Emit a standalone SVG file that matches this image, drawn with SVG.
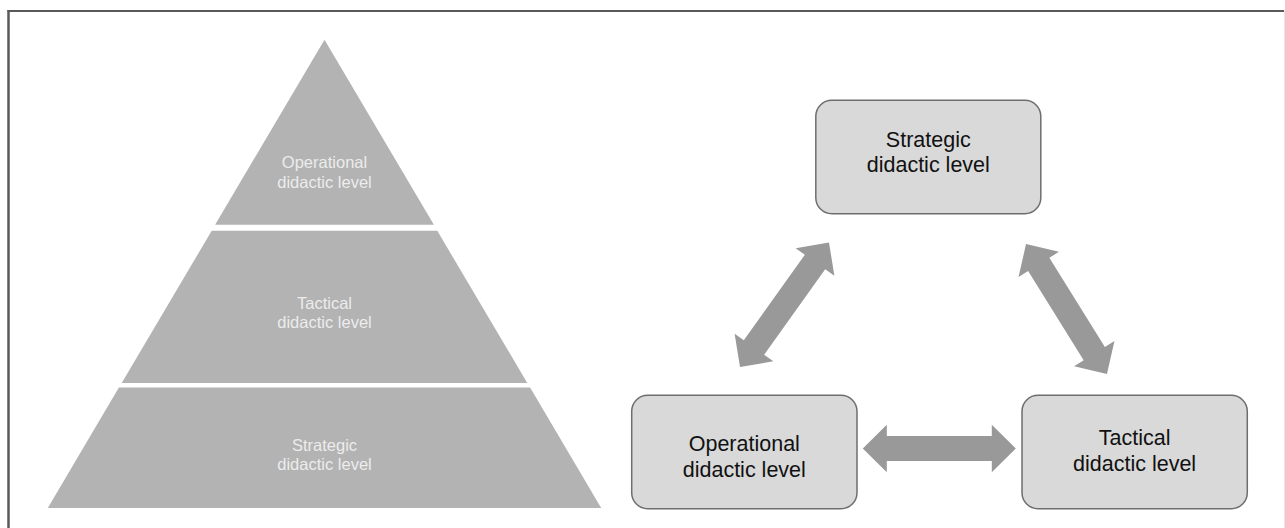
<svg xmlns="http://www.w3.org/2000/svg" xmlns:xlink="http://www.w3.org/1999/xlink" width="1285" height="528" viewBox="0 0 1285 528">
<style>
.band{fill:#b3b3b3}
.ptxt{font-family:"Liberation Sans",Arial,sans-serif;font-size:16.5px;fill:#ececec;text-anchor:middle}
.box{fill:#d9d9d9;stroke:#6e6e6e;stroke-width:1.5}
.btxt{font-family:"Liberation Sans",Arial,sans-serif;font-size:21.5px;fill:#111;text-anchor:middle}
.arrow{fill:#999999}
</style>
<defs>
<path id="dbl" d="M-76.5,0 L-52.5,-23.8 L-52.5,-12.5 L52.5,-12.5 L52.5,-23.8 L76.5,0 L52.5,23.8 L52.5,12.5 L-52.5,12.5 L-52.5,23.8 Z"/>
</defs>
<rect x="0" y="0" width="1285" height="528" fill="#ffffff"/>
<g id="frame">
<line x1="8.5" y1="10" x2="8.5" y2="528" stroke="#5a5a5a" stroke-width="2.5"/>
<line x1="7.5" y1="11" x2="1285" y2="11" stroke="#5a5a5a" stroke-width="2"/>
<line x1="1284.5" y1="10" x2="1284.5" y2="528" stroke="#e6e6e6" stroke-width="1"/>
</g>
<g id="pyramid">
<g id="band-operational">
<polygon class="band" points="324.5,39.7 433.9,224.8 215.1,224.8"/>
<text class="ptxt" x="324.5" y="168">Operational</text>
<text class="ptxt" x="324.5" y="187.5">didactic level</text>
</g>
<g id="band-tactical">
<polygon class="band" points="211.7,230.8 437.3,230.8 527.3,382.9 121.7,382.9"/>
<text class="ptxt" x="324.5" y="308.5">Tactical</text>
<text class="ptxt" x="324.5" y="328">didactic level</text>
</g>
<g id="band-strategic">
<polygon class="band" points="118.9,387.6 530.1,387.6 601.2,508 47.8,508"/>
<text class="ptxt" x="324.5" y="450.5">Strategic</text>
<text class="ptxt" x="324.5" y="470">didactic level</text>
</g>
</g>
<g id="connectors">
<use xlink:href="#dbl" class="arrow" transform="translate(784.5,304.75) rotate(-54.45)"/>
<use xlink:href="#dbl" class="arrow" transform="translate(1066.5,309) rotate(58.07)"/>
<use xlink:href="#dbl" class="arrow" transform="translate(939.3,448.5)"/>
</g>
<g id="node-strategic">
<rect class="box" x="815.8" y="100.3" width="225" height="113.4" rx="16" ry="16"/>
<text class="btxt" x="928.3" y="147">Strategic</text>
<text class="btxt" x="928.3" y="172.3">didactic level</text>
</g>
<g id="node-operational">
<rect class="box" x="631.7" y="395.3" width="225.3" height="113.4" rx="16" ry="16"/>
<text class="btxt" x="744.3" y="451">Operational</text>
<text class="btxt" x="744.3" y="477">didactic level</text>
</g>
<g id="node-tactical">
<rect class="box" x="1022" y="395.3" width="225.3" height="113.4" rx="16" ry="16"/>
<text class="btxt" x="1134.6" y="445">Tactical</text>
<text class="btxt" x="1134.6" y="471">didactic level</text>
</g>
</svg>
